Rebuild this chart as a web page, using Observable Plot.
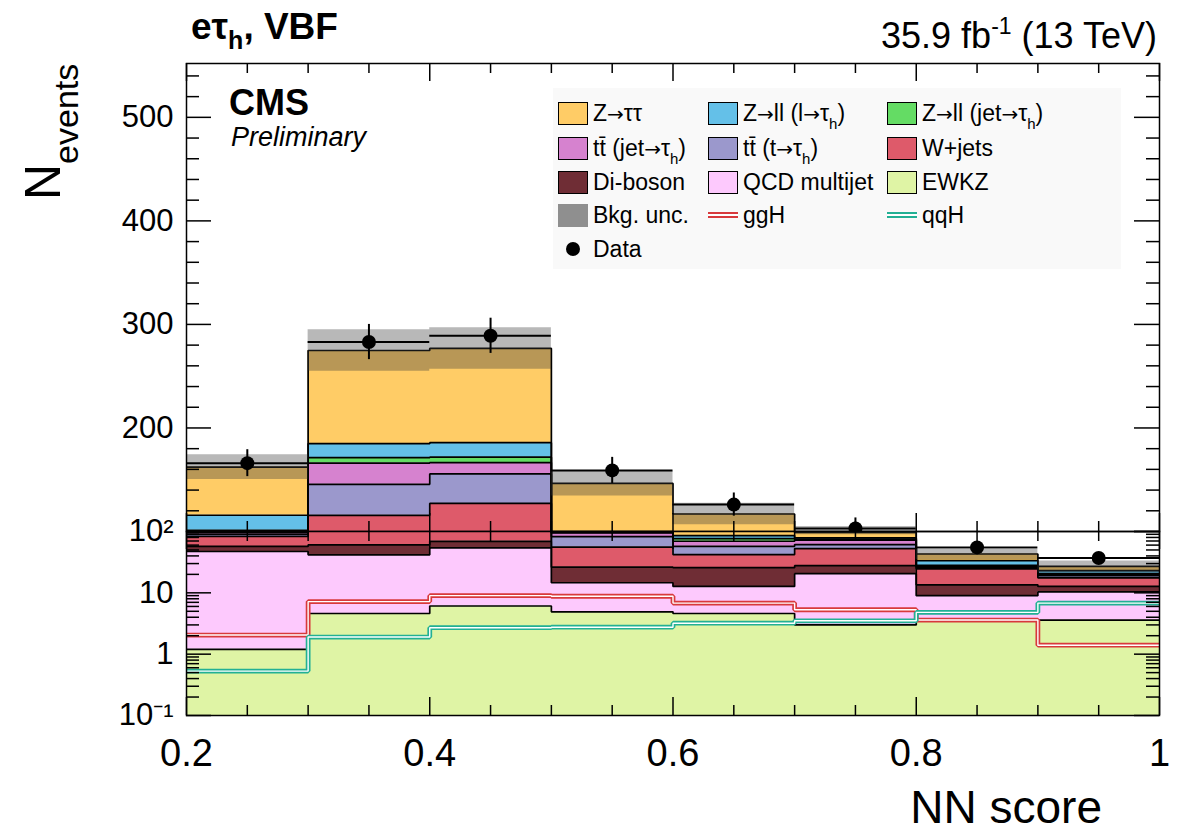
<!DOCTYPE html>
<html>
<head>
<meta charset="utf-8">
<script src="https://cdn.jsdelivr.net/npm/d3@7"></script>
<script src="https://cdn.jsdelivr.net/npm/@observablehq/plot@0.6"></script>
<style>
html,body{margin:0;padding:0;background:#fff;}
#chart{position:relative;width:1188px;height:833px;overflow:hidden;font-family:"Liberation Sans",Arial,Helvetica,sans-serif;color:#000;}
#chart svg{position:absolute;left:0;overflow:visible;}
.leg{position:absolute;left:553px;top:88px;width:568px;height:181px;background:#f9f9f9;}
.entry{position:absolute;height:24px;display:flex;align-items:center;font-size:23px;white-space:nowrap;line-height:1;}
.sw{width:30px;height:23px;box-sizing:border-box;border:1.5px solid #000;margin-right:5px;flex:none;}
.sig{width:30px;height:6px;box-sizing:border-box;margin-right:5px;flex:none;background:#fff;}
.dotsw{width:14px;height:14px;border-radius:50%;background:#000;margin:0 13px 0 8px;flex:none;}
.entry sub{font-size:15px;vertical-align:-8px;line-height:0;}
.arr{font-family:"DejaVu Sans",sans-serif;font-size:20px;}
</style>
</head>
<body>
<div id="chart"></div>
<script>
// ---------------- data ----------------
const binEdges = [0.2, 0.3, 0.4, 0.5, 0.6, 0.7, 0.8, 0.9, 1.0];
// background yields per bin, stacked bottom -> top
const yieldEWKZ = [1.2, 4.6, 6.1, 4.9, 4.6, 3.0, 3.5, 3.6];
const yieldQCD  = [46, 37, 48, 9.7, 8.1, 17.5, 5.5, 6.8];
const yieldVV   = [10, 19, 15, 11.6, 13, 7.2, 4.5, 2.3];
const yieldW    = [26, 55, 58, 29.5, 16.3, 24.9, 11, 4.9];
const yieldTTT  = [7, 30, 28.5, 27, 15.4, 8.6, 1.5, 1.4];
const yieldTTJ  = [6, 20.5, 11, 12.2, 11.9, 10.8, 1.0, 0.8];
const yieldZJ   = [5, 5.2, 5.2, 1.5, 7.4, 3, 1, 0.7];
const yieldZL   = [14.5, 13.5, 14, 3.5, 9.2, 3.8, 5.5, 2.5];
const yieldZTT  = [46.5, 90, 91, 46.5, 31, 18, 9.5, 4];
const bkgUnc    = [12, 20, 20, 12, 10.5, 8, 8, 6];
// signals
const yieldGGH  = [2.05, 7.2, 9.0, 8.8, 6.8, 5.3, 3.6, 1.4];
const yieldQQH  = [0.53, 1.9, 2.7, 2.75, 3.2, 3.5, 4.8, 6.8];
// observed data
const dataCounts = [166, 283, 289, 159, 126, 103, 55, 37];
const dataErr    = [13, 17, 17, 12.6, 11.2, 10.1, 7.4, 6.1];
// axis ticks
const xMajorTicks = [0.2, 0.4, 0.6, 0.8, 1.0];
const xTickLabels = ["0.2", "0.4", "0.6", "0.8", "1"];
const xMinorTicks = [0.25, 0.3, 0.35, 0.45, 0.5, 0.55, 0.65, 0.7, 0.75, 0.85, 0.9, 0.95];
const yLinMajor = [100, 200, 300, 400, 500];
const yLinLabels = [200, 300, 400, 500];
const yLinMinor = [120,140,160,180,220,240,260,280,320,340,360,380,420,440,460,480,520,540];
const yLogMajor = [0.1, 1, 10, 100];
const yLogLabels = ["10⁻¹", "1", "10", "10²"];
const yLogMinor = [0.2,0.3,0.4,0.5,0.6,0.7,0.8,0.9,2,3,4,5,6,7,8,9,20,30,40,50,60,70,80,90];

// ---------------- styling ----------------
const processValues = [yieldEWKZ, yieldQCD, yieldVV, yieldW, yieldTTT, yieldTTJ, yieldZJ, yieldZL, yieldZTT];
const processColors = ["#dff4a5", "#fdc9fd", "#6f2d35", "#de5a6a", "#9b98cc", "#d682cf", "#64dc64", "#64c0e8", "#ffcc66"];
const ggHColor = "#d8393c", qqHColor = "#22b094";

const W = 1188, ML = 186, MR = 29;
const innerW = W - ML - MR;
const upperTop = 63, split = 531, lowerBottom = 715;
const upperH = split - upperTop, lowerH = lowerBottom - split;
const FONT = "'Liberation Sans', Arial, Helvetica, sans-serif";

// ---------------- derived tables ----------------
const nBins = binEdges.length - 1;
const binLo = binEdges.slice(0, -1), binHi = binEdges.slice(1);
const FLOOR = 1e-3;
const cum = new Array(nBins).fill(0);
const layerPts = processValues.map((vals, k) => {
  const pts = [];
  vals.forEach((v, i) => {
    const y1 = Math.max(cum[i], FLOOR), y2 = cum[i] + v;
    pts.push({k, x: binLo[i], y1, y2}, {k, x: binHi[i], y1, y2});
    cum[i] += v;
  });
  return pts;
});
const allLayerPts = layerPts.flat();
const bandPts = cum.flatMap((t, i) => [
  {x: binLo[i], y1: t - bkgUnc[i], y2: t + bkgUnc[i]},
  {x: binHi[i], y1: t - bkgUnc[i], y2: t + bkgUnc[i]}
]);
const stepPts = vals => vals.flatMap((v, i) => [{x: binLo[i], y: v}, {x: binHi[i], y: v}]);
const dataRows = dataCounts.map((n, i) => ({lo: binLo[i], hi: binHi[i], xc: (binLo[i] + binHi[i]) / 2, n, e: dataErr[i]}));

function tickMarks(innerH, yMaj, yMin) {
  const s = {stroke: "#000", strokeWidth: 1.5};
  return [
    Plot.ruleX(xMajorTicks, {x: d => d, insetTop: innerH - 18, ...s}),
    Plot.ruleX(xMinorTicks, {x: d => d, insetTop: innerH - 10, ...s}),
    Plot.ruleX(xMajorTicks, {x: d => d, insetBottom: innerH - 18, ...s}),
    Plot.ruleX(xMinorTicks, {x: d => d, insetBottom: innerH - 10, ...s}),
    Plot.ruleY(yMaj, {y: d => d, insetRight: innerW - 25, ...s}),
    Plot.ruleY(yMin, {y: d => d, insetRight: innerW - 13, ...s}),
    Plot.ruleY(yMaj, {y: d => d, insetLeft: innerW - 25, ...s}),
    Plot.ruleY(yMin, {y: d => d, insetLeft: innerW - 13, ...s})
  ];
}

function padMarks(innerH, yMaj, yMin, rows) {
  return [
    ...layerPts.map((pts, k) => Plot.areaY(pts, {x: "x", y1: "y1", y2: "y2", fill: processColors[k], clip: true})),
    Plot.line(allLayerPts, {x: "x", y: "y2", z: "k", stroke: "#000", strokeWidth: 1.7, strokeLinejoin: "miter", clip: true}),
    Plot.areaY(bandPts, {x: "x", y1: "y1", y2: "y2", fill: "#3a3a3a", fillOpacity: 0.36, clip: true}),
    Plot.line(stepPts(yieldGGH), {x: "x", y: "y", stroke: ggHColor, strokeWidth: 4.8, strokeLinejoin: "miter", clip: true}),
    Plot.line(stepPts(yieldGGH), {x: "x", y: "y", stroke: "#fff", strokeWidth: 1.4, strokeLinejoin: "miter", clip: true}),
    Plot.line(stepPts(yieldQQH), {x: "x", y: "y", stroke: qqHColor, strokeWidth: 4.8, strokeLinejoin: "miter", clip: true}),
    Plot.line(stepPts(yieldQQH), {x: "x", y: "y", stroke: "#fff", strokeWidth: 1.4, strokeLinejoin: "miter", clip: true}),
    Plot.ruleY(rows, {x1: "lo", x2: "hi", y: "n", stroke: "#000", strokeWidth: 2, clip: true}),
    Plot.ruleX(rows, {x: "xc", y1: d => d.n - d.e, y2: d => d.n + d.e, stroke: "#000", strokeWidth: 2, clip: true}),
    Plot.dot(rows, {x: "xc", y: "n", r: 7, fill: "#000", stroke: "none", clip: true}),
    ...tickMarks(innerH, yMaj, yMin),
    Plot.frame({stroke: "#000", strokeWidth: 1.5})
  ];
}

const chart = document.getElementById("chart");

const upper = Plot.plot({
  width: W, height: split,
  marginLeft: ML, marginRight: MR, marginTop: upperTop, marginBottom: 0,
  style: {fontFamily: FONT, fontSize: "31px", overflow: "visible", background: "transparent", color: "#000"},
  x: {domain: [0.2, 1.0], axis: null},
  y: {domain: [100, 552]},
  marks: [
    ...padMarks(upperH, yLinMajor, yLinMinor, dataRows.filter(d => d.n >= 100)),
    Plot.axisY({ticks: yLinLabels, tickSize: 0, tickPadding: 13, fontSize: 31, label: null})
  ]
});
upper.style.top = "0px";
chart.appendChild(upper);

const lower = Plot.plot({
  width: W, height: 833 - split,
  marginLeft: ML, marginRight: MR, marginTop: 0, marginBottom: 833 - lowerBottom,
  style: {fontFamily: FONT, fontSize: "30px", overflow: "visible", background: "transparent", color: "#000"},
  x: {domain: [0.2, 1.0]},
  y: {type: "log", domain: [0.1, 100]},
  marks: [
    ...padMarks(lowerH, yLogMajor, yLogMinor, dataRows.filter(d => d.n < 100)),
    Plot.axisY({ticks: yLogMajor, tickFormat: d => yLogLabels[yLogMajor.indexOf(d)], tickSize: 0, tickPadding: 13, fontSize: 31, label: null}),
    Plot.axisX({ticks: xMajorTicks, tickFormat: d => xTickLabels[xMajorTicks.indexOf(d)], tickSize: 0, tickPadding: 24, fontSize: 38, label: null})
  ]
});
lower.style.top = split + "px";
chart.appendChild(lower);

// ---------------- legend ----------------
const A = '<span class="arr">→</span>';
const legendEntries = [
  {col: 0, row: 0, type: "box", c: 8, html: `Z${A}ττ`},
  {col: 1, row: 0, type: "box", c: 7, html: `Z${A}ll (l${A}τ<sub>h</sub>)`},
  {col: 2, row: 0, type: "box", c: 6, html: `Z${A}ll (jet${A}τ<sub>h</sub>)`},
  {col: 0, row: 1, type: "box", c: 5, html: `tt̄ (jet${A}τ<sub>h</sub>)`},
  {col: 1, row: 1, type: "box", c: 4, html: `tt̄ (t${A}τ<sub>h</sub>)`},
  {col: 2, row: 1, type: "box", c: 3, html: "W+jets"},
  {col: 0, row: 2, type: "box", c: 2, html: "Di-boson"},
  {col: 1, row: 2, type: "box", c: 1, html: "QCD multijet"},
  {col: 2, row: 2, type: "box", c: 0, html: "EWKZ"},
  {col: 0, row: 3, type: "unc", html: "Bkg. unc."},
  {col: 1, row: 3, type: "sig", color: ggHColor, html: "ggH"},
  {col: 2, row: 3, type: "sig", color: qqHColor, html: "qqH"},
  {col: 0, row: 4, type: "dot", html: "Data"}
];
const colX = [558, 708, 887];
const rowY = [113, 148, 182, 215, 249];
const leg = document.createElement("div");
leg.className = "leg";
chart.appendChild(leg);
legendEntries.forEach(e => {
  const d = document.createElement("div");
  d.className = "entry";
  d.style.left = colX[e.col] + "px";
  d.style.top = (rowY[e.row] - 12) + "px";
  let sw;
  if (e.type === "box") sw = `<span class="sw" style="background:${processColors[e.c]}"></span>`;
  else if (e.type === "unc") sw = `<span class="sw" style="background:#8f8f8f;border:none"></span>`;
  else if (e.type === "sig") sw = `<span class="sig" style="border-top:2px solid ${e.color};border-bottom:2px solid ${e.color}"></span>`;
  else sw = `<span class="dotsw"></span>`;
  d.innerHTML = sw + `<span>${e.html}</span>`;
  chart.appendChild(d);
});

// ---------------- titles ----------------
const ns = "http://www.w3.org/2000/svg";
const ov = document.createElementNS(ns, "svg");
ov.setAttribute("width", W); ov.setAttribute("height", 833);
ov.style.top = "0px"; ov.style.pointerEvents = "none";
ov.setAttribute("font-family", "Liberation Sans, Arial, Helvetica, sans-serif");
ov.innerHTML = `
<text x="191" y="39" font-size="37" font-weight="bold">eτ<tspan font-size="25" dy="10">h</tspan><tspan dy="-10">, VBF</tspan></text>
<text x="1157" y="48" font-size="36" text-anchor="end">35.9 fb<tspan font-size="23" dy="-14">-1</tspan><tspan dy="14"> (13 TeV)</tspan></text>
<text x="229" y="115" font-size="36" font-weight="bold">CMS</text>
<text x="231" y="146" font-size="27" font-style="italic">Preliminary</text>
<text transform="translate(60,200) rotate(-90)" font-size="50">N<tspan font-size="34" dy="18">events</tspan></text>
<text x="1102" y="823" font-size="46" text-anchor="end">NN score</text>`;
chart.appendChild(ov);
</script>
</body>
</html>
